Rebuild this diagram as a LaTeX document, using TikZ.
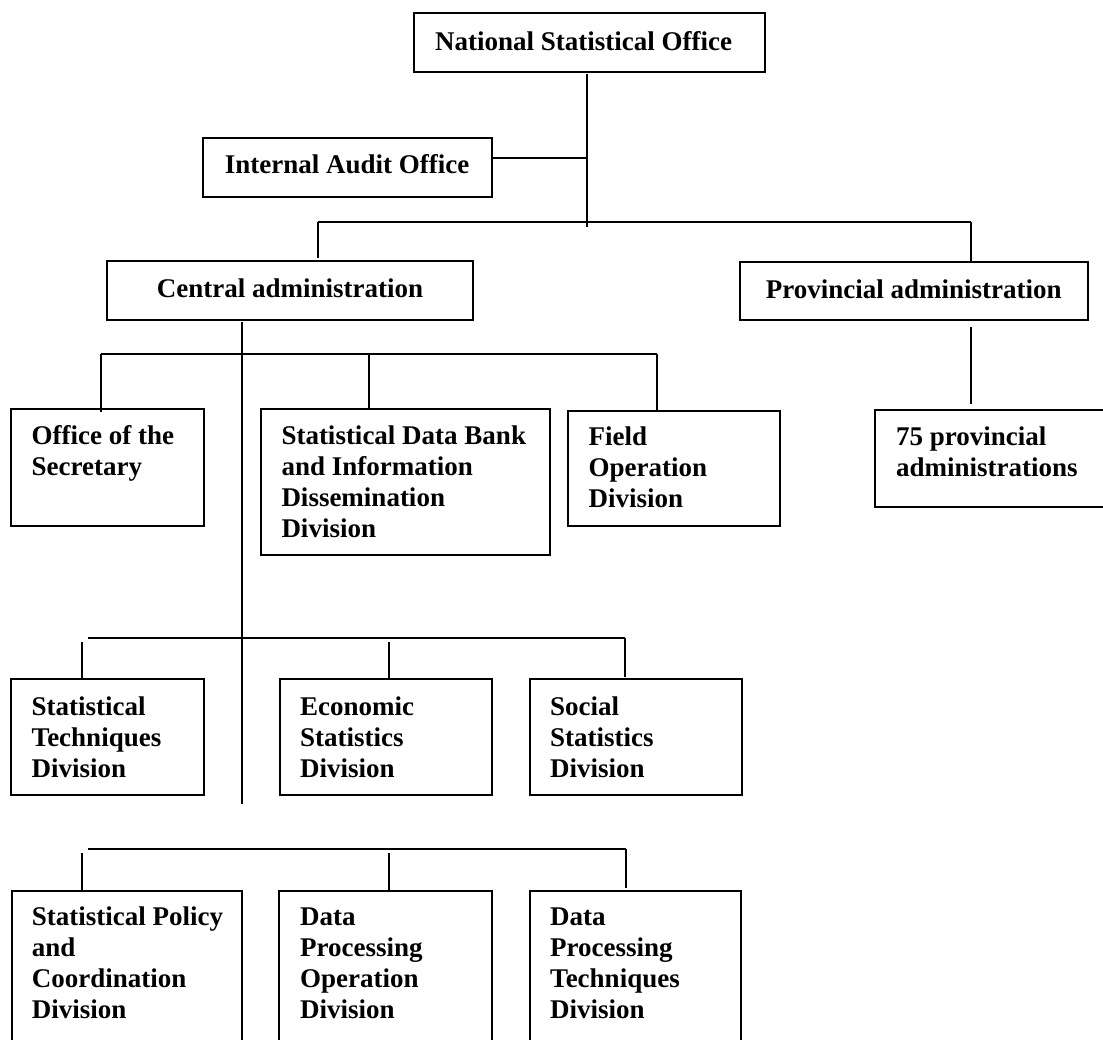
\documentclass[tikz,border=0pt]{standalone}
\usepackage{fontspec}
\setmainfont{Liberation Serif}
\begin{document}
\begin{tikzpicture}[x=1pt,y=-1pt,
  box/.style={draw, line width=2pt, rectangle, inner sep=0pt, outer sep=0pt, anchor=north west},
  ln/.style={line width=2pt},
  lbl/.style={font=\fontsize{27}{31}\selectfont\bfseries, inner sep=0pt, align=left, anchor=base west},
  clbl/.style={font=\fontsize{27}{31}\selectfont\bfseries, inner sep=0pt, anchor=base},
]
\useasboundingbox (0,0) rectangle (1103,1039);
\clip (0,0) rectangle (1103,1039);
\fill[white] (0,0) rectangle (1103,1039);

% boxes
\node[box, minimum width=351.3pt, minimum height=58.4pt] (nso)  at (413.7,13.3) {};
\node[box, minimum width=289pt,   minimum height=58.4pt] (iao)  at (202.7,138.3) {};
\node[box, minimum width=366pt,   minimum height=59pt]   (cen)  at (107,261) {};
\node[box, minimum width=347.6pt, minimum height=58pt]   (prov) at (740,262.3) {};
\node[box, minimum width=260pt,   minimum height=96.7pt] (p75)  at (875,410) {};
\node[box, minimum width=193.3pt, minimum height=117pt]  (sec)  at (10.7,409) {};
\node[box, minimum width=289pt,   minimum height=146pt]  (sdb)  at (260.6,409) {};
\node[box, minimum width=212pt,   minimum height=115.5pt] (fod) at (568,410.5) {};
\node[box, minimum width=193pt,   minimum height=115.2pt] (std) at (11,679.3) {};
\node[box, minimum width=212pt,   minimum height=115.2pt] (esd) at (280,679.3) {};
\node[box, minimum width=212.5pt, minimum height=115.2pt] (ssd) at (529.5,679.3) {};
\node[box, minimum width=230pt,   minimum height=200pt]  (spc)  at (11.7,890.7) {};
\node[box, minimum width=213pt,   minimum height=200pt]  (dpo)  at (279.3,890.7) {};
\node[box, minimum width=211.6pt, minimum height=200pt]  (dpt)  at (529.7,890.7) {};

% texts (base anchor = baseline of the last line; first baseline about 35 below box top)
\node[lbl]  (tnso)  at ([xshift=21.3pt,yshift=-36.7pt]nso.north west) {National Statistical Office};
\node[clbl] (tiao)  at ([yshift=-35.2pt]iao.north) {Internal Audit Office};
\node[clbl] (tcen)  at ([yshift=-36pt]cen.north) {Central administration};
\node[clbl] (tprov) at ([yshift=-35.7pt]prov.north) {Provincial administration};
\node[lbl]  (tp75)  at ([xshift=21pt,yshift=-66pt]p75.north west) {75 provincial\\administrations};
\node[lbl]  (tsec)  at ([xshift=20.7pt,yshift=-66pt]sec.north west) {Office of the\\Secretary};
\node[lbl]  (tsdb)  at ([xshift=20.7pt,yshift=-128pt]sdb.north west) {Statistical Data Bank\\and Information\\Dissemination\\Division};
\node[lbl]  (tfod)  at ([xshift=20.5pt,yshift=-96.5pt]fod.north west) {Field\\Operation\\Division};
\node[lbl]  (tstd)  at ([xshift=20.5pt,yshift=-97.7pt]std.north west) {Statistical\\Techniques\\Division};
\node[lbl]  (tesd)  at ([xshift=20pt,yshift=-97.7pt]esd.north west) {Economic\\Statistics\\Division};
\node[lbl]  (tssd)  at ([xshift=20.5pt,yshift=-97.7pt]ssd.north west) {Social\\Statistics\\Division};
\node[lbl]  (tspc)  at ([xshift=20pt,yshift=-127.3pt]spc.north west) {Statistical Policy\\and\\Coordination\\Division};
\node[lbl]  (tdpo)  at ([xshift=20.7pt,yshift=-127.3pt]dpo.north west) {Data\\Processing\\Operation\\Division};
\node[lbl]  (tdpt)  at ([xshift=20.3pt,yshift=-127.3pt]dpt.north west) {Data\\Processing\\Techniques\\Division};

% junction coordinates
\coordinate (trunk) at (587,227);
\coordinate (iaoj)  at (587,157.7);
\coordinate (barL)  at (317.7,222);
\coordinate (barR)  at (971,222);
\coordinate (ctr)   at (241.6,804);
\coordinate (l1L)   at (100.6,354);
\coordinate (l1M)   at (369,354);
\coordinate (l1R)   at (657,354);
\coordinate (l2L)   at (87.7,637.5);
\coordinate (l2R)   at (625,637.5);
\coordinate (l2a)   at (81.7,642);
\coordinate (l2b)   at (388.5,642);
\coordinate (l3L)   at (87.7,848.7);
\coordinate (l3R)   at (625.7,848.7);
\coordinate (l3a)   at (81.7,853);
\coordinate (l3b)   at (388.5,853);

% connectors
\draw[ln] ([yshift=-2pt]trunk |- nso.south) -- (trunk);
\draw[ln] (iaoj -| iao.east) -- (iaoj);
\draw[ln] (barL) -- (barR);
\draw[ln] (barL) -- ([yshift=3pt]barL |- cen.north);
\draw[ln] (barR) -- (barR |- prov.north);
\draw[ln, shorten <=6.5pt, shorten >=6pt] (barR |- prov.south) -- (barR |- p75.north);
\draw[ln] ([yshift=-2pt]ctr |- cen.south) -- (ctr);
\draw[ln] (l1L) -- (l1R);
\draw[ln] (l1L) -- ([yshift=-3pt]l1L |- sec.north);
\draw[ln] (l1M) -- (l1M |- sdb.north);
\draw[ln] (l1R) -- (l1R |- fod.north);
\draw[ln] (l2L) -- (l2R);
\draw[ln] (l2a) -- (l2a |- std.north);
\draw[ln] (l2b) -- (l2b |- esd.north);
\draw[ln] (l2R) -- ([yshift=2pt]l2R |- ssd.north);
\draw[ln] (l3L) -- (l3R);
\draw[ln] (l3a) -- (l3a |- spc.north);
\draw[ln] (l3b) -- (l3b |- dpo.north);
\draw[ln] (l3R) -- ([yshift=2.5pt]l3R |- dpt.north);
\end{tikzpicture}
\end{document}
